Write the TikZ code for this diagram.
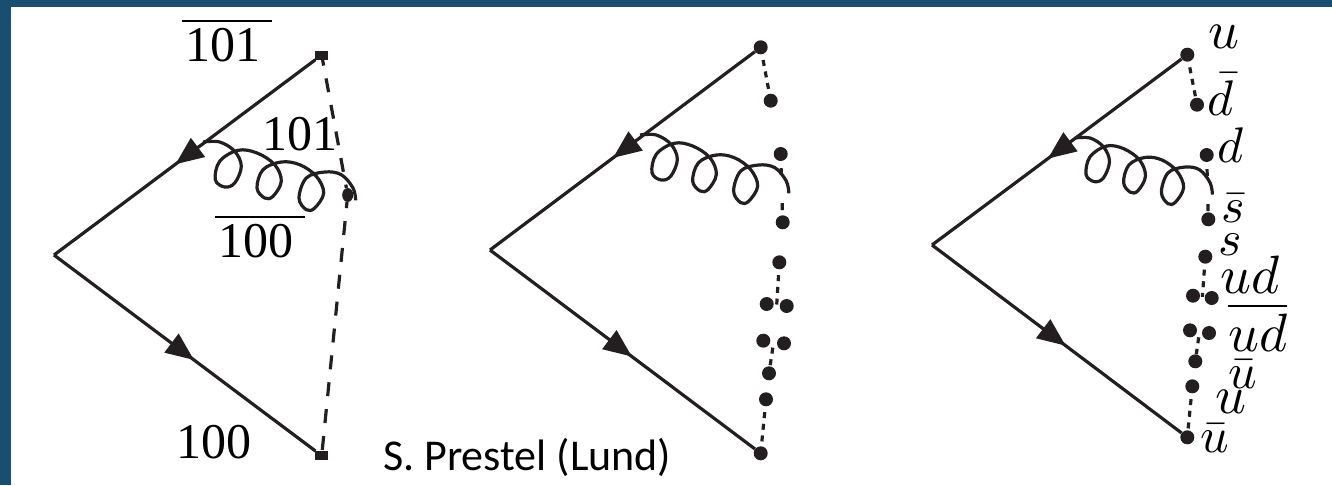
\documentclass[tikz,border=0pt]{standalone}
\usepackage{amsmath}
\usepackage{graphicx}
\usepackage{fontspec}
\usepackage{tikz}
\usetikzlibrary{arrows.meta,calc,decorations.markings,shapes.geometric}
\newfontfamily\numfont{Liberation Serif}
\newfontfamily\notefont{Carlito}
\definecolor{ink}{RGB}{35,31,32}
\definecolor{band}{RGB}{24,78,112}
\tikzset{
  leg/.style={line width=3.2pt,ink,postaction={decorate},decoration={markings,
    mark=at position .535 with {\arrow{Triangle[length=28pt,width=24pt,line width=0pt]}}}},
  gl/.style={line width=3.2pt,ink},
  dipole/.style={line width=3.2pt,ink,dash pattern=on 14pt off 13pt,dash phase=8pt},
  frag/.style={line width=3.2pt,ink,dash pattern=on 6pt off 5.7pt,dash phase=6pt},
  fragsparse/.style={line width=3.2pt,ink,dash pattern=on 7pt off 28pt,dash phase=28pt},
  endq/.style={rectangle,fill=ink,inner sep=0pt,minimum width=13pt,minimum height=9pt},
  kink/.style={ellipse,fill=ink,inner sep=0pt,minimum width=11pt,minimum height=14pt},
  dot/.style={circle,fill=ink,inner sep=0pt,minimum size=14pt},
  num/.style={anchor=base west,inner sep=0pt,font=\fontsize{50}{50}\numfont},
  flav/.style={anchor=base west,inner sep=0pt},
  note/.style={anchor=base west,inner sep=0pt,font=\fontsize{44}{44}\notefont},
}
\newcommand{\numbar}[1]{\scalebox{5}{$\overline{\hbox{\numfont\kern.6pt#1\kern2.4pt}}$}}
\newcommand{\flv}[2][5]{\scalebox{#1}{$#2$}}
\newcommand{\gluon}[3]{%
  \begin{scope}[shift={(#1)},xscale=#2,yscale=#3]
    \draw[gl] plot[smooth,tension=.6] coordinates {(0,0) (16.7,0) (31.7,9.3) (38.3,24.3)
      (31.7,41) (21.7,45) (12.3,37.7) (16.7,19.3) (35,8.3) (54,11) (71.7,22.7) (78.3,39.3)
      (70,54.3) (61.7,56) (54,46) (60,27.7) (78.3,20) (96.7,22.7) (113.3,34.3) (120.7,51)
      (111.7,66) (103.3,67.7) (96,56) (103.3,36) (121.7,30) (138.3,32.7) (150,46) (152.7,58.3)};
  \end{scope}}

\begin{document}
\begin{tikzpicture}[x=1pt,y=-1pt]
  \useasboundingbox (0,0) rectangle (1332,485);
  \fill[band] (0,0) rectangle (1332,7);
  \fill[band] (0,0) rectangle (11,485);

  % left: dipoles
  \coordinate (a1) at (54,255);
  \coordinate (g1) at (203,142);
  \node[endq] (t1) at (321.7,55) {};
  \node[endq] (b1) at (321.7,455.7) {};
  \node[kink] (k1) at (347.7,195) {};
  \draw[leg] (t1) -- (a1);
  \draw[leg] (a1) -- (b1);
  \gluon{g1}{1}{1}
  \draw[dipole] (t1) -- (k1);
  \draw[dipole] (k1) -- (b1);
  \node[flav] (l101b) at (182,61.7) {\numbar{101}};
  \node[num] (l101) at (262,150) {101};
  \node[flav] (l100b) at (215,257) {\numbar{100}};
  \node[num] (l100) at (176,458) {100};
  \node[note] (credit) at (383,470) {S. Prestel (Lund)};

  % middle: string breaks
  \coordinate (a2) at (490,250);
  \coordinate (g2) at (640,135);
  \node[dot] (t2) at (760.7,47.3) {};
  \node[dot] (m2a) at (770.7,100.7) {};
  \node[dot] (m2b) at (780.7,154) {};
  \node[dot] (m2c) at (782.7,222.3) {};
  \node[dot] (m2d) at (779.3,262.3) {};
  \node[dot] (m2e) at (766.7,304) {};
  \node[dot] (m2f) at (786.7,306) {};
  \node[dot] (m2g) at (763.3,340.7) {};
  \node[dot] (m2h) at (784,343.3) {};
  \node[dot] (m2i) at (769,373.3) {};
  \node[dot] (m2j) at (766,399.3) {};
  \node[dot] (b2) at (760.7,453.3) {};
  \draw[leg] (t2) -- (a2);
  \draw[leg] (a2) -- (b2);
  \gluon{g2}{.975}{1}
  \draw[frag] (t2) -- (m2a);
  \draw[fragsparse] (m2b) -- (m2c);
  \draw[frag] (m2d) -- ($(m2e)!.5!(m2f)$);
  \draw[frag] ($(m2g)!.5!(m2h)$) -- (m2i);
  \draw[frag] (m2j) -- (b2);

  % right: flavours
  \coordinate (a3) at (932,245);
  \coordinate (g3) at (1075,138);
  \node[dot] (t3) at (1187.3,54.7) {};
  \node[dot] (m3a) at (1197,104.7) {};
  \node[dot] (m3b) at (1206.7,155) {};
  \node[dot] (m3c) at (1208.3,219.3) {};
  \node[dot] (m3d) at (1205.3,256.7) {};
  \node[dot] (m3e) at (1193,295.7) {};
  \node[dot] (m3f) at (1211.7,298) {};
  \node[dot] (m3g) at (1190,330.3) {};
  \node[dot] (m3h) at (1209,333) {};
  \node[dot] (m3i) at (1195.3,361.3) {};
  \node[dot] (m3j) at (1192.3,386.3) {};
  \node[dot] (b3) at (1187.3,437.3) {};
  \draw[leg] (t3) -- (a3);
  \draw[leg] (a3) -- (b3);
  \gluon{g3}{.9}{.97}
  \draw[frag] (t3) -- (m3a);
  \draw[fragsparse] (m3b) -- (m3c);
  \draw[frag] (m3d) -- ($(m3e)!.5!(m3f)$);
  \draw[frag] ($(m3g)!.5!(m3h)$) -- (m3i);
  \draw[frag] (m3j) -- (b3);
  \node[flav] (fa) at (1208,48) {\flv[5.4]{u}};
  \node[flav] (fb) at (1207,115) {\flv{\bar{d}}};
  \node[flav] (fc) at (1217,162) {\flv{d}};
  \node[flav] (fd) at (1221,222) {\flv{\bar{s}}};
  \node[flav] (fe) at (1218,255) {\flv{s}};
  \node[flav] (ff) at (1220,293) {\flv[5.4]{ud}};
  \node[flav] (fg) at (1228,351) {\flv[5.4]{\overline{ud}}};
  \node[flav] (fh) at (1228,388) {\flv{\bar{u}}};
  \node[flav] (fi) at (1215,413) {\flv[5.4]{u}};
  \node[flav] (fj) at (1200,452) {\flv{\bar{u}}};
\end{tikzpicture}
\end{document}
